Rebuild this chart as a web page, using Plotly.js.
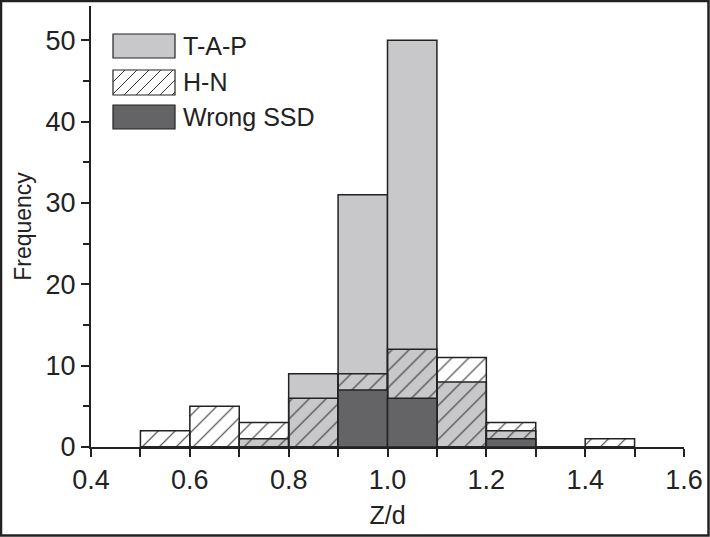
<!DOCTYPE html>
<html>
<head>
<meta charset="utf-8">
<script src="https://cdn.plot.ly/plotly-3.0.1.min.js"></script>
<style>
  html, body { margin: 0; padding: 0; background: #fff; }
  #plot_hist { width: 710px; height: 537px; }
</style>
</head>
<body>
<div id="plot_hist"></div>
<script>
// histogram bins (centres), width 0.1
var binCenters = [0.55, 0.65, 0.75, 0.85, 0.95, 1.05, 1.15, 1.25, 1.35, 1.45];
var tapCounts = [0, 0, 1, 9, 31, 50, 8, 2, 0, 0];
var hnCounts = [2, 5, 3, 6, 9, 12, 11, 3, 0, 1];
var wrongCounts = [0, 0, 0, 0, 7, 6, 0, 1, 0, 0];
var seriesNames = ['T-A-P', 'H-N', 'Wrong SSD'];

var xTickVals = [0.4, 0.6, 0.8, 1.0, 1.2, 1.4, 1.6];
var yTickVals = [0, 10, 20, 30, 40, 50];

var W = 710, H = 537;
var mL = 91, mR = 26, mT = 6, mB = 90;
var lineCol = '#222';
var tapCol = '#c8c8ca';
var wrongCol = '#646467';

// pixel -> paper helpers (for the hand made legend and frame)
function px(x) { return (x - mL) / (W - mL - mR); }
function py(y) { return (H - mB - y) / (H - mT - mB); }

var outline = { color: lineCol, width: 1.5 };

var traceTap = {
  type: 'bar', x: binCenters, y: tapCounts, width: 0.1,
  name: seriesNames[0],
  marker: { color: tapCol, line: outline }
};
var traceHN = {
  type: 'bar', x: binCenters, y: hnCounts, width: 0.1,
  name: seriesNames[1],
  marker: {
    color: 'rgba(0,0,0,0)', line: outline,
    pattern: { shape: '/', size: 12, solidity: 0.09, fgcolor: '#333', bgcolor: 'rgba(0,0,0,0)', fillmode: 'replace' }
  }
};
var traceWrong = {
  type: 'bar', x: binCenters, y: wrongCounts, width: 0.1,
  name: seriesNames[2],
  marker: { color: wrongCol, line: outline }
};

// legend drawn with shapes + annotations so the boxes look like the original
var shapes = [];
var annotations = [];
var boxes = [[34, 58, tapCol], [70, 95, 'rgba(0,0,0,0)'], [105, 129, wrongCol]];
for (var i = 0; i < boxes.length; i++) {
  var b = boxes[i];
  shapes.push({
    type: 'rect', xref: 'paper', yref: 'paper',
    x0: px(113), x1: px(175), y0: py(b[1]), y1: py(b[0]),
    fillcolor: b[2], line: { color: lineCol, width: 1.2 }
  });
  annotations.push({
    xref: 'paper', yref: 'paper', x: px(181), y: py((b[0] + b[1]) / 2),
    xanchor: 'left', yanchor: 'middle', showarrow: false,
    text: seriesNames[i],
    font: { family: 'Liberation Sans, Arial, sans-serif', size: 25, color: lineCol }
  });
}
// hatch lines in the H-N legend box
var hp = '';
for (var k = -25; k < 62; k += 12) {
  var xa = 113 + k, xb = 113 + k + 25;
  var ya = 95, yb = 70;
  // clip to box
  if (xa < 113) { ya = 95 - (113 - xa); xa = 113; }
  if (xb > 175) { yb = 70 + (xb - 175); xb = 175; }
  if (xa >= xb) continue;
  hp += 'M' + px(xa) + ',' + py(ya) + 'L' + px(xb) + ',' + py(yb);
}
shapes.push({ type: 'path', xref: 'paper', yref: 'paper', path: hp, line: { color: '#333', width: 1 } });

// outer frame of the figure
shapes.push({
  type: 'rect', xref: 'paper', yref: 'paper',
  x0: px(1), x1: px(708.5), y0: py(535.5), y1: py(1),
  line: { color: lineCol, width: 2.5 }
});

var layout = {
  width: W, height: H,
  margin: { l: mL, r: mR, t: mT, b: mB, pad: 0 },
  paper_bgcolor: '#fff', plot_bgcolor: '#fff',
  barmode: 'overlay',
  showlegend: false,
  font: { family: 'Liberation Sans, Arial, sans-serif', color: lineCol },
  xaxis: {
    range: [0.4, 1.6], tickvals: xTickVals, ticktext: xTickVals.map(function (v) { return v.toFixed(1); }),
    showgrid: false, zeroline: false,
    showline: true, linecolor: lineCol, linewidth: 2,
    ticks: 'outside', ticklen: 8, tickwidth: 2, tickcolor: lineCol,
    minor: { dtick: 0.1, tick0: 0.4, ticks: 'outside', ticklen: 8, tickwidth: 2, tickcolor: lineCol, showgrid: false },
    tickfont: { size: 27, color: lineCol },
    title: { text: 'Z/d', font: { size: 25, color: lineCol }, standoff: 12 }
  },
  yaxis: {
    range: [0, 54.2], tickvals: yTickVals,
    showgrid: false, zeroline: false,
    showline: true, linecolor: lineCol, linewidth: 2,
    ticks: 'outside', ticklen: 8, tickwidth: 2, tickcolor: lineCol,
    minor: { dtick: 5, tick0: 0, ticks: 'outside', ticklen: 6, tickwidth: 2, tickcolor: lineCol, showgrid: false },
    tickfont: { size: 27, color: lineCol },
    title: { text: 'Frequency', font: { size: 23, color: lineCol }, standoff: 8 }
  },
  shapes: shapes,
  annotations: annotations
};

Plotly.newPlot('plot_hist', [traceTap, traceHN, traceWrong], layout, { staticPlot: true });
</script>
</body>
</html>
